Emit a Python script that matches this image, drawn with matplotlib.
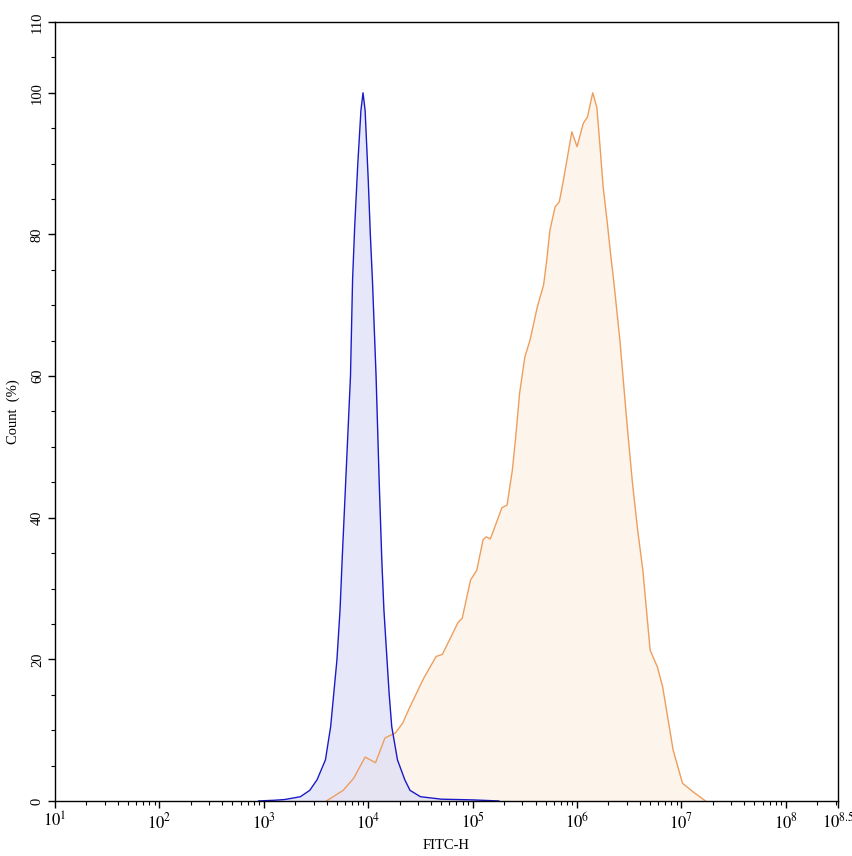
import numpy as np
import matplotlib
matplotlib.use("Agg")
import matplotlib.pyplot as plt
from matplotlib.ticker import FixedLocator, NullFormatter

# log10(FITC-H) positions and count (%)
blue_log = [2.95, 3.10, 3.20, 3.35, 3.44, 3.51, 3.59, 3.64, 3.67, 3.70, 3.73,
            3.75, 3.79, 3.83, 3.85, 3.87, 3.90, 3.93, 3.95, 3.97, 4.00, 4.02,
            4.04, 4.075, 4.105, 4.13, 4.15, 4.18, 4.20, 4.225, 4.28, 4.35,
            4.40, 4.50, 4.70, 5.00, 5.25]
blue_cnt = [0.0, 0.1, 0.2, 0.6, 1.5, 3.0, 5.8, 10.5, 15.2, 19.9, 27.0,
            34.0, 47.0, 60.0, 73.6, 81.0, 90.0, 97.5, 100.0, 97.5, 87.7, 80.0,
            73.6, 60.0, 45.0, 34.0, 27.0, 19.9, 15.2, 10.5, 5.8, 3.0,
            1.5, 0.6, 0.25, 0.15, 0.0]

orange_log = [3.60, 3.76, 3.86, 3.97, 4.07, 4.16, 4.26, 4.33, 4.40, 4.53,
              4.65, 4.71, 4.86, 4.90, 4.98, 5.04, 5.10, 5.13, 5.17, 5.28,
              5.33, 5.38, 5.41, 5.45, 5.50, 5.55, 5.62, 5.68, 5.71, 5.74,
              5.79, 5.83, 5.87, 5.95, 6.00, 6.06, 6.10, 6.15, 6.19, 6.22,
              6.25, 6.29, 6.32, 6.35, 6.41, 6.48, 6.53, 6.58, 6.63, 6.70,
              6.77, 6.82, 6.92, 7.01, 7.11, 7.23]
orange_cnt = [0.0, 1.5, 3.2, 6.2, 5.4, 8.9, 9.6, 11.0, 13.3, 17.3,
              20.4, 20.7, 25.2, 25.8, 31.2, 32.6, 36.9, 37.3, 37.0, 41.4,
              41.8, 46.7, 51.0, 57.6, 62.7, 65.1, 69.8, 72.9, 76.4, 80.6,
              83.9, 84.6, 87.7, 94.5, 92.4, 95.7, 96.6, 100.0, 97.9, 92.4,
              86.7, 81.6, 77.4, 73.6, 65.1, 53.0, 45.0, 38.3, 32.6, 21.3,
              18.9, 16.1, 7.2, 2.5, 1.3, 0.0]

x_tick_exp = [1, 2, 3, 4, 5, 6, 7, 8, 8.5]
x_tick_labels = ["$10^{1}$", "$10^{2}$", "$10^{3}$", "$10^{4}$", "$10^{5}$",
                 "$10^{6}$", "$10^{7}$", "$10^{8}$", "$10^{8.5}$"]
y_ticks = [0, 20, 40, 60, 80, 100, 110]

plt.rcParams["font.family"] = ["Liberation Serif", "DejaVu Serif"]
plt.rcParams["mathtext.fontset"] = "stix"

fig = plt.figure(figsize=(8.53, 8.56), dpi=100)
ax = fig.add_axes([0.0645, 0.0643, 0.918, 0.910])

bx = 10 ** np.array(blue_log)
ox = 10 ** np.array(orange_log)

ax.fill_between(ox, orange_cnt, color="#fdf3e8", alpha=0.85, lw=0)
ax.fill_between(bx, blue_cnt, color="#d8d8f8", alpha=0.6, lw=0)
ax.plot(ox, orange_cnt, color="#ee9e5c", lw=1.0)
ax.plot(bx, blue_cnt, color="#1a1ac8", lw=1.0)

ax.set_xscale("log")
ax.set_xlim(10 ** 1, 10 ** 8.5)
ax.set_ylim(0, 110)

ax.set_xticks([10 ** e for e in x_tick_exp])
ax.set_xticklabels(x_tick_labels, fontsize=12)
minor = [m * 10 ** d for d in range(1, 9) for m in range(2, 10) if m * 10 ** d < 10 ** 8.5]
ax.xaxis.set_minor_locator(FixedLocator(minor))
ax.xaxis.set_minor_formatter(NullFormatter())

ax.set_yticks(y_ticks)
ax.set_yticklabels([str(v) for v in y_ticks], fontsize=10.5, rotation=90, va="center")
ax.yaxis.set_minor_locator(FixedLocator(np.arange(5, 110, 5)))

ax.tick_params(axis="both", which="major", direction="out", length=5, width=1, pad=3)
ax.tick_params(axis="both", which="minor", direction="out", length=3, width=0.8)
for s in ax.spines.values():
    s.set_linewidth(1.0)

ax.set_xlabel("FITC-H", fontsize=10.5, labelpad=5)
ax.set_ylabel("Count  (%)", fontsize=10.5)
ax.yaxis.set_label_coords(-0.045, 0.5)

fig.savefig("out.png", dpi=100)
